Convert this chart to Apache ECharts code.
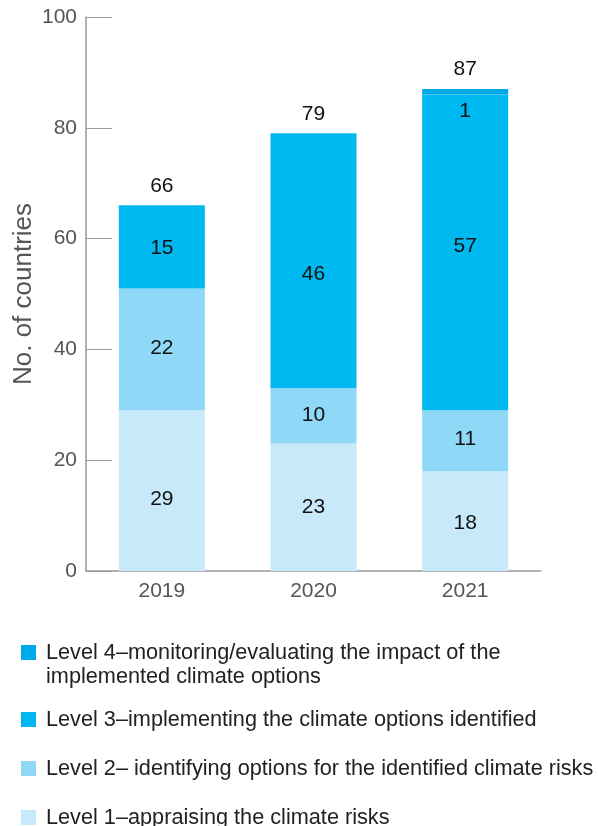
<!DOCTYPE html>
<html>
<head>
<meta charset="utf-8">
<script src="https://cdn.jsdelivr.net/npm/echarts@6/dist/echarts.min.js"></script>
<style>
  html, body { margin: 0; padding: 0; background: #fff; }
  #main { width: 598px; height: 826px; }
</style>
</head>
<body>
<div id="main"></div>
<script>
var years = ['2019', '2020', '2021']
var level1 = [29, 23, 18]
var level2 = [22, 10, 11]
var level3 = [15, 46, 57]
var level4 = [null, null, 1]
var yTicks = [0, 20, 40, 60, 80, 100]

var names = [
  'Level 4–monitoring/evaluating the impact of the\nimplemented climate options',
  'Level 3–implementing the climate options identified',
  'Level 2– identifying options for the identified climate risks',
  'Level 1–appraising the climate risks'
]
var colors = ['#00aaea', '#00b8f0', '#8fd8f7', '#c7e9f9']

// small vertical nudges of the value labels, as placed in the original
var nudge1 = [9, 0, 2]
var nudge2 = [-1, -1, -2]
var nudge3 = [1, 13, -6]

var totals = years.map(function (y, i) {
  return level1[i] + level2[i] + level3[i] + (level4[i] || 0)
})

var font = 'Liberation Sans'
var chart = echarts.init(document.getElementById('main'))

var labelStyle = {
  show: true,
  position: 'inside',
  color: '#111',
  fontSize: 21,
  fontFamily: font
}

function withNudge (values, nudge) {
  return values.map(function (v, i) {
    return { value: v, label: { offset: [0, nudge[i]] } }
  })
}

// square drawn in the upper part of the item so it lines up with the first text line
function legendAt (name, top, lines) {
  var h = 24 * lines
  return {
    data: [name],
    left: 21,
    top: top,
    padding: 0,
    orient: 'vertical',
    itemWidth: 20,
    itemHeight: h,
    icon: 'path://M0,0L0.01,0M0,4H15V19H0ZM20,' + h + 'L20.01,' + h,
    selectedMode: false,
    textStyle: {
      color: '#222',
      fontSize: 21.7,
      fontFamily: font,
      lineHeight: 24
    }
  }
}

var option = {
  animation: false,
  color: colors,
  grid: { left: 86, right: 57, top: 17, bottom: 255, outerBoundsMode: 'none' },
  legend: [
    legendAt(names[0], 641, 2),
    legendAt(names[1], 708, 1),
    legendAt(names[2], 757, 1),
    legendAt(names[3], 806, 1)
  ],
  xAxis: {
    type: 'category',
    data: years,
    axisLine: { lineStyle: { color: '#999', width: 1.5 } },
    axisTick: { inside: true, length: 13, lineStyle: { color: '#999' } },
    axisLabel: { color: '#555', fontSize: 21, fontFamily: font, margin: 10 }
  },
  yAxis: {
    type: 'value',
    min: yTicks[0],
    max: yTicks[yTicks.length - 1],
    interval: 20,
    name: 'No. of countries',
    nameLocation: 'middle',
    nameGap: 49,
    nameMoveOverlap: false,
    nameTextStyle: { color: '#555', fontSize: 26, fontFamily: font },
    axisLine: { show: true, lineStyle: { color: '#999', width: 1.5 } },
    axisTick: { show: true, inside: true, length: 26, lineStyle: { color: '#999' } },
    splitLine: { show: false },
    axisLabel: { color: '#555', fontSize: 21, fontFamily: font, margin: 9 }
  },
  series: [
    { name: names[3], type: 'bar', stack: 'a', barWidth: 86, data: withNudge(level1, nudge1), itemStyle: { color: colors[3] }, label: labelStyle },
    { name: names[2], type: 'bar', stack: 'a', data: withNudge(level2, nudge2), itemStyle: { color: colors[2] }, label: labelStyle },
    { name: names[1], type: 'bar', stack: 'a', data: withNudge(level3, nudge3), itemStyle: { color: colors[1] }, label: labelStyle },
    {
      name: names[0], type: 'bar', stack: 'a', data: level4, itemStyle: { color: colors[0] },
      label: Object.assign({}, labelStyle, { position: 'insideTop', offset: [0, 7] })
    },
    {
      name: 'total', type: 'bar', stack: 'a', data: totals.map(function () { return 0 }),
      itemStyle: { color: 'transparent' },
      label: {
        show: true,
        position: 'top',
        distance: 9,
        color: '#111',
        fontSize: 21,
        fontFamily: font,
        formatter: function (p) { return totals[p.dataIndex] }
      }
    }
  ]
}

chart.setOption(option)
</script>
</body>
</html>
